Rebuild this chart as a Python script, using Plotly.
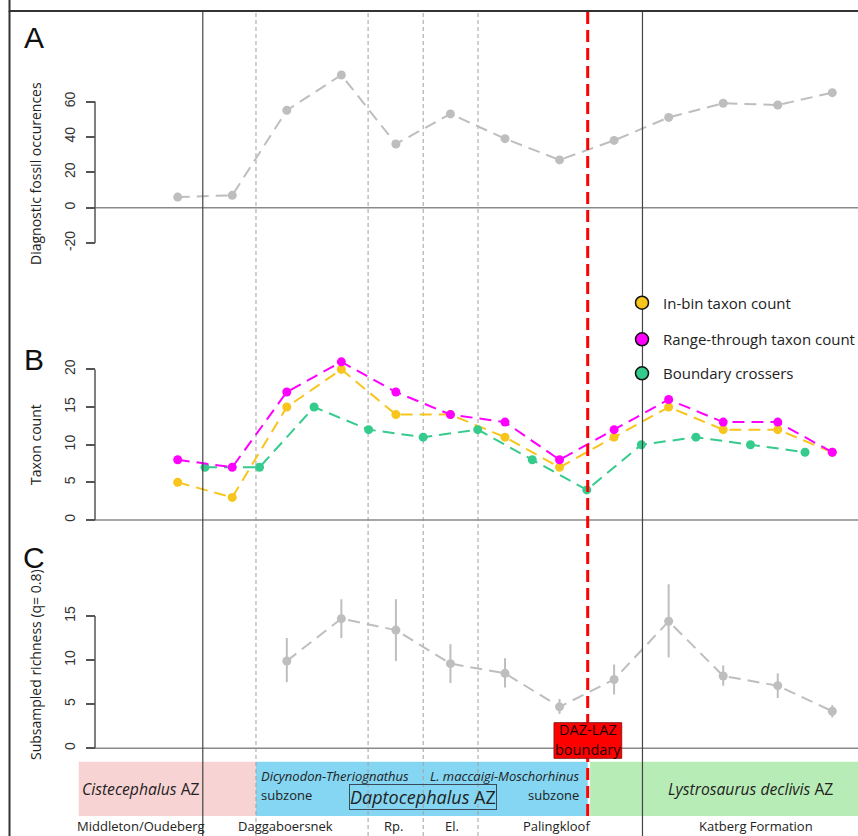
import plotly.graph_objects as go

W, H = 858, 836

# ---------------- data ----------------
bins = list(range(13))
boundary_pos = [0.5 + i for i in range(12)]

fossil_occurrences = [6, 7, 55, 75, 36, 53, 39, 27, 38, 51, 59, 58, 65]
in_bin_count = [5, 3, 15, 20, 14, 14, 11, 7, 11, 15, 12, 12, 9]
range_through_count = [8, 7, 17, 21, 17, 14, 13, 8, 12, 16, 13, 13, 9]
boundary_crossers = [7, 7, 15, 12, 11, 12, 8, 4, 10, 11, 10, 9]

sub_bins = list(range(2, 13))
sub_richness = [9.9, 14.7, 13.4, 9.6, 8.5, 4.7, 7.8, 14.4, 8.2, 7.1, 4.2]
sub_upper = [12.5, 16.9, 16.9, 11.8, 10.2, 5.6, 9.5, 18.6, 9.4, 8.5, 4.9]
sub_lower = [7.5, 12.5, 9.9, 7.4, 6.9, 3.9, 6.1, 10.3, 7.1, 5.7, 3.5]

solid_bounds = [0.46, 8.52]
dashed_bounds = [1.435, 3.49, 4.50, 5.505]
daz_laz = 7.516

zones = [(-1.815, 1.435, "#F8D3D3"), (1.435, 7.516, "#84D6F2"), (7.56, 12.6, "#B8ECB6")]
formations = ["Middleton/Oudeberg", "Daggaboersnek", "Rp.", "El.", "Palingkloof", "Katberg Formation"]
formation_pos = [-0.67, 1.98, 3.95, 5.02, 6.95, 10.6]

ticksA = [-20, 0, 20, 40, 60]
ticksA_text = ["-20", "0", "20", "40", "60"]
ticksB = [0, 5, 10, 15, 20]
ticksB_text = ["0", "5", "10", "15", "20"]
ticksC = [0, 5, 10, 15]
ticksC_text = ["0", "5", "10", "15"]

# ---------------- layout helpers ----------------
X0PX, XSTEP = 177.7, 54.55
xrange = [-X0PX / XSTEP, (W - X0PX) / XSTEP]


def fy(p):
    return 1 - p / H


def fx(p):
    return p / W


def yaxis_cfg(zero_px, ppu, top_px, bot_px, ticks, ticktext):
    return dict(
        domain=[fy(bot_px), fy(top_px)],
        range=[(zero_px - bot_px) / ppu, (zero_px - top_px) / ppu],
        anchor="free", position=fx(95), showgrid=False, zeroline=False,
        showline=False, ticks="outside", ticklen=9, tickwidth=1.5, tickcolor="#555",
        tickvals=ticks, ticktext=ticktext, tickangle=-90, ticklabelstandoff=5,
        tickfont=dict(family="Liberation Sans", size=14, color="#333"),
    )


GRAY = "#BEBEBE"
YEL = "#F7C51B"
MAG = "#FF00FF"
GRN = "#35CB8C"
DASH = "12px,7px"

fig = go.Figure()

fig.add_trace(go.Scatter(x=bins, y=fossil_occurrences, mode="lines+markers", yaxis="y",
                         line=dict(color=GRAY, width=2, dash=DASH), marker=dict(color=GRAY, size=9)))
fig.add_trace(go.Scatter(x=bins, y=in_bin_count, mode="lines+markers", yaxis="y2",
                         line=dict(color=YEL, width=2, dash=DASH), marker=dict(color=YEL, size=9)))
fig.add_trace(go.Scatter(x=boundary_pos, y=boundary_crossers, mode="lines+markers", yaxis="y2",
                         line=dict(color=GRN, width=2, dash=DASH), marker=dict(color=GRN, size=9)))
fig.add_trace(go.Scatter(x=bins, y=range_through_count, mode="lines+markers", yaxis="y2",
                         line=dict(color=MAG, width=2, dash=DASH), marker=dict(color=MAG, size=9)))
fig.add_trace(go.Scatter(
    x=sub_bins, y=sub_richness, mode="lines+markers", yaxis="y3",
    line=dict(color=GRAY, width=2, dash=DASH), marker=dict(color=GRAY, size=9),
    error_y=dict(type="data", symmetric=False,
                 array=[u - v for u, v in zip(sub_upper, sub_richness)],
                 arrayminus=[v - l for v, l in zip(sub_richness, sub_lower)],
                 color=GRAY, thickness=2, width=0)))

shapes = []
# zone band
for x0, x1, col in zones:
    shapes.append(dict(type="rect", xref="x", yref="paper", x0=x0, x1=x1, y0=fy(816), y1=fy(761.7),
                       fillcolor=col, line=dict(width=0), layer="below"))
# dashed bin boundaries (below band)
for b in dashed_bounds:
    shapes.append(dict(type="line", xref="x", yref="paper", x0=b, x1=b, y0=0, y1=fy(11),
                       line=dict(color="#A0A0A0", width=1, dash="4px,3px"), layer="below"))
# zero lines and axis lines
for ref, lo, hi in [("y", -20, 60), ("y2", 0, 20), ("y3", 0, 15)]:
    shapes.append(dict(type="line", xref="paper", yref=ref, x0=fx(95), x1=1, y0=0, y1=0,
                       line=dict(color="#8A8A8A", width=1.5), layer="below"))
    shapes.append(dict(type="line", xref="paper", yref=ref, x0=fx(95), x1=fx(95), y0=lo, y1=hi,
                       line=dict(color="#555", width=1.5), layer="below"))
# solid formation boundaries
for b in solid_bounds:
    shapes.append(dict(type="line", xref="x", yref="paper", x0=b, x1=b, y0=0, y1=fy(11),
                       line=dict(color="#444", width=1.2), layer="above"))
# DAZ-LAZ boundary
shapes.append(dict(type="line", xref="x", yref="paper", x0=daz_laz, x1=daz_laz, y0=fy(816), y1=fy(11),
                   line=dict(color="#FF0000", width=3, dash="12px,6px"), layer="above"))
# frame: top edge (path form that rendered visibly) and left edge
shapes.append(dict(type="path", xref="paper", yref="paper",
                   path=f"M {fx(9.5)},{fy(0)} L {fx(9.5)},{fy(11)} L {fx(W)},{fy(11)}",
                   line=dict(color="#333", width=2), layer="above"))
shapes.append(dict(type="line", xref="paper", yref="paper", x0=fx(9.5), x1=fx(9.5), y0=0, y1=fy(11),
                   line=dict(color="#333", width=2), layer="above"))
# DAZ-LAZ label box
shapes.append(dict(type="rect", xref="paper", yref="paper", x0=fx(554), x1=fx(621.7), y0=fy(758.3), y1=fy(722.7),
                   fillcolor="#FF0000", line=dict(color="#8B1A1A", width=1), layer="above"))
# legend circles
legend_items = [("In-bin taxon count", YEL), ("Range-through taxon count", MAG), ("Boundary crossers", GRN)]
legend_y = [302.7, 339.3, 373.3]
for (lab, col), ly in zip(legend_items, legend_y):
    r = 6.5
    shapes.append(dict(type="circle", xref="paper", yref="paper", x0=fx(642 - r), x1=fx(642 + r),
                       y0=fy(ly + r), y1=fy(ly - r), fillcolor=col, line=dict(color="#111", width=1.5),
                       layer="above"))

ann = []
SANS = "Open Sans"


def note(text, x, y, xref="paper", size=14, family=SANS, xanchor="center", color="#222", **kw):
    d = dict(text=text, x=x, y=y, xref=xref, yref="paper", showarrow=False,
             xanchor=xanchor, yanchor="middle", font=dict(family=family, size=size, color=color))
    d.update(kw)
    ann.append(d)


for lab, yy in [("A", 38), ("B", 359), ("C", 557)]:
    note(lab, fx(34), fy(yy), size=30, family="Liberation Sans", color="#111")
for lab, yy in [("Diagnostic fossil occurences", 174), ("Taxon count", 445), ("Subsampled richness (q= 0.8)", 665)]:
    note(lab, fx(35), fy(yy), size=14, textangle=-90)
for (lab, col), ly in zip(legend_items, legend_y):
    note(lab, fx(661), fy(ly), size=15, xanchor="left")
note("DAZ-LAZ", fx(588), fy(729.8), size=14.5, color="#220000")
note("boundary", fx(588), fy(749.5), size=14.5, color="#220000")
# zone labels
note("<i>Cistecephalus</i> AZ", -0.68, fy(789), xref="x", size=15.7)
note("<i>Lystrosaurus declivis</i> AZ", 10.5, fy(789), xref="x", size=15.7)
note("<i>Dicynodon-Theriognathus</i>", fx(259), fy(775.7), size=13, xanchor="left")
note("subzone", fx(259), fy(795), size=13, xanchor="left")
note("<i>L. maccaigi-Moschorhinus</i>", fx(581), fy(775.7), size=13, xanchor="right")
note("subzone", fx(581), fy(795), size=13, xanchor="right")
note("<i>Daptocephalus</i> AZ", fx(422.5), fy(796.5), size=18,
     bordercolor="#3A4A5A", borderwidth=1, borderpad=0)
for lab, xp in zip(formations, formation_pos):
    note(lab, xp, fy(826), xref="x", size=13)

fig.update_layout(
    width=W, height=H, margin=dict(l=0, r=0, t=0, b=0),
    paper_bgcolor="white", plot_bgcolor="rgba(0,0,0,0)", showlegend=False,
    xaxis=dict(range=xrange, visible=False, domain=[0, 1], anchor="free", position=0),
    yaxis=yaxis_cfg(207.7, 1.77, 11, 270, ticksA, ticksA_text),
    yaxis2=yaxis_cfg(520, 7.53, 275, 530, ticksB, ticksB_text),
    yaxis3=yaxis_cfg(748.3, 8.82, 535, 758, ticksC, ticksC_text),
    shapes=shapes, annotations=ann,
)

fig.write_html("out.html", config={"displayModeBar": False},
               post_script="document.body.style.margin='0px';")
